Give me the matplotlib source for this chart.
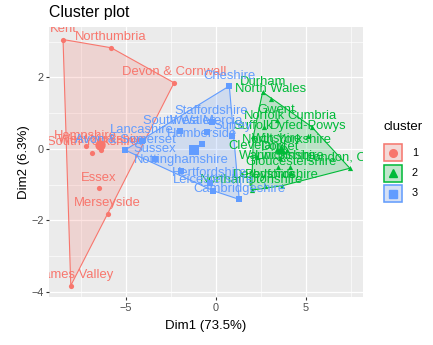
import numpy as np
import matplotlib
matplotlib.use("Agg")
import matplotlib.pyplot as plt
from matplotlib.patches import Polygon, Rectangle

plt.rcParams['font.family'] = ['Liberation Sans', 'DejaVu Sans']

# PCA coordinates of each police force area, split by k-means cluster
names1 = ['Kent', 'Northumbria', 'Devon & Cornwall', 'Thames Valley', 'Merseyside',
          'Essex', 'Hampshire', 'South Yorkshire', 'West Yorkshire']
dim1_1 = [-8.50, -5.83, -2.33, -8.07, -6.02, -6.52, -7.24, -6.87, -6.39]
dim2_1 = [3.06, 2.83, 1.85, -3.82, -1.81, -1.10, 0.08, -0.10, -0.03]

names2 = ['Durham', 'North Wales', 'London, City of', 'Northamptonshire', 'Derbyshire',
          'Bedfordshire', 'Gwent', 'Cumbria', 'Norfolk', 'Suffolk', 'Dyfed-Powys',
          'North Yorkshire', 'Wiltshire', 'Cleveland', 'Dorset', 'Warwickshire',
          'Lincolnshire', 'Gloucestershire']
dim1_2 = [2.59, 3.04, 7.44, 1.98, 2.72, 3.67, 3.37, 5.32, 2.69, 2.08, 5.14,
          3.92, 3.40, 2.28, 3.56, 3.42, 4.11, 4.17]
dim2_2 = [1.59, 1.39, -0.54, -1.15, -1.03, -1.03, 0.81, 0.62, 0.62, 0.36, 0.36,
          -0.03, 0.00, -0.22, -0.25, -0.50, -0.50, -0.67]

names3 = ['Cheshire', 'Cambridgeshire', 'Leicestershire', 'Nottinghamshire',
          'Hertfordshire', 'Sussex', 'Avon & Somerset', 'Lancashire', 'Humberside',
          'Staffordshire', 'South Wales', 'West Mercia', 'Surrey']
dim1_3 = [0.74, 1.29, -0.15, -1.94, -0.33, -3.39, -5.06, -4.13, -0.80,
          -0.24, -2.00, -0.52, 0.90]
dim2_3 = [1.76, -1.41, -1.17, -0.61, -0.95, -0.29, -0.03, 0.23, 0.14,
          0.76, 0.50, 0.48, 0.36]

clusters = [
    ('1', names1, dim1_1, dim2_1, '#F8766D', 'o'),
    ('2', names2, dim1_2, dim2_2, '#00BA38', '^'),
    ('3', names3, dim1_3, dim2_3, '#619CFF', 's'),
]


def convex_hull(pts):
    # monotone chain
    pts = sorted(set(map(tuple, pts)))
    if len(pts) < 3:
        return pts

    def cross(o, a, b):
        return (a[0] - o[0]) * (b[1] - o[1]) - (a[1] - o[1]) * (b[0] - o[0])

    lower = []
    for p in pts:
        while len(lower) >= 2 and cross(lower[-2], lower[-1], p) <= 0:
            lower.pop()
        lower.append(p)
    upper = []
    for p in reversed(pts):
        while len(upper) >= 2 and cross(upper[-2], upper[-1], p) <= 0:
            upper.pop()
        upper.append(p)
    return lower[:-1] + upper[:-1]


W, H = 433, 345
fig = plt.figure(figsize=(W / 100, H / 100), dpi=100)
ax = fig.add_axes([49 / W, (H - 297) / H, (363 - 49) / W, (297 - 27) / H])
ax.set_facecolor('#EBEBEB')
for s in ax.spines.values():
    s.set_visible(False)

ax.set_xlim(-9.28, 8.17)
ax.set_ylim(-4.14, 3.41)
ax.set_xticks([-5, 0, 5])
ax.set_yticks([-4, -2, 0, 2])
ax.set_xticks([-7.5, -2.5, 2.5, 7.5], minor=True)
ax.set_yticks([-3, -1, 1, 3], minor=True)
ax.grid(which='major', color='white', lw=0.9)
ax.grid(which='minor', color='white', lw=0.45)
ax.set_axisbelow(True)
ax.tick_params(which='major', length=2.5, width=0.8, color='#333333',
               labelsize=7.8, labelcolor='#4D4D4D', pad=1.5)
ax.tick_params(which='minor', length=0)

for lab, names, xs, ys, col, mk in clusters:
    hull = convex_hull(list(zip(xs, ys)))
    ax.add_patch(Polygon(hull, closed=True, facecolor=col, alpha=0.2, lw=0))
    ax.add_patch(Polygon(hull, closed=True, fill=False, edgecolor=col, lw=0.8))
    ax.scatter(xs, ys, s=14, marker=mk, color=col, lw=0, zorder=3)
    for n, x, y in zip(names, xs, ys):
        ax.annotate(n, (x, y), xytext=(0, 7.5), textcoords='offset points',
                    ha='center', va='center', fontsize=9.4, color=col,
                    annotation_clip=False, clip_on=True)
    # cluster centre
    ax.scatter([np.mean(xs)], [np.mean(ys)], s=55, marker=mk, color=col, lw=0, zorder=4)

ax.set_xlabel('Dim1 (73.5%)', fontsize=9.5, color='black', labelpad=5)
ax.set_ylabel('Dim2 (6.3%)', fontsize=9.5, color='black', labelpad=0.5)
fig.text(49 / W, 1 - 13 / H, 'Cluster plot', fontsize=11.4, ha='left', va='center')

# legend drawn by hand in pixel coordinates
lax = fig.add_axes([0, 0, 1, 1], facecolor='none')
lax.set_xlim(0, W)
lax.set_ylim(H, 0)
lax.axis('off')
lax.text(383, 127, 'cluster', fontsize=9.5, ha='left', va='center')
for i, (lab, names, xs, ys, col, mk) in enumerate(clusters):
    top = 143 + i * 20.5
    lax.add_patch(Rectangle((383, top), 20, 19, facecolor='#F2F2F2', lw=0))
    lax.add_patch(Rectangle((384, top + 1), 18, 17,
                            facecolor=matplotlib.colors.to_rgba(col, 0.2),
                            edgecolor=col, lw=1.1))
    lax.plot([393], [top + 9.5], marker=mk, color=col, markersize=5.5, ls='none')
    lax.text(412, top + 9.5, lab, fontsize=7.8, ha='left', va='center')

fig.savefig('out.png', dpi=100)
